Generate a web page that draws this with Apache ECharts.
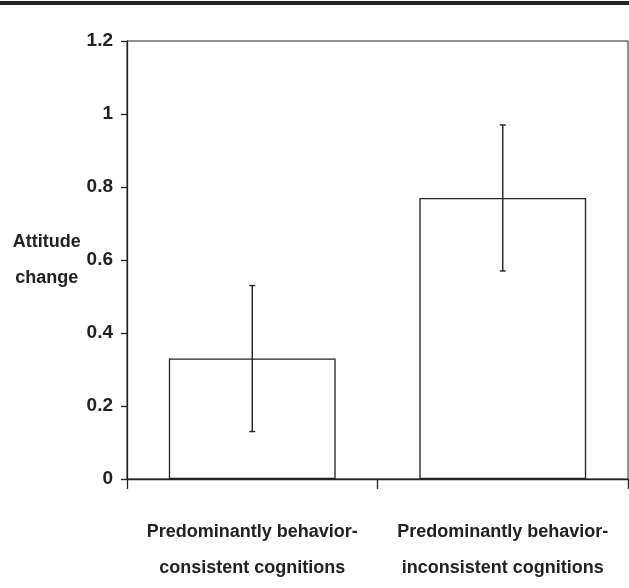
<!DOCTYPE html>
<html>
<head>
<meta charset="utf-8">
<script src="https://cdn.jsdelivr.net/npm/echarts@6/dist/echarts.min.js"></script>
<style>
  html, body { margin: 0; padding: 0; background: #fff; }
  #chart { width: 629px; height: 588px; }
</style>
</head>
<body>
<div id="chart"></div>
<script>
// data
const categories = [
  'Predominantly behavior-\nconsistent cognitions',
  'Predominantly behavior-\ninconsistent cognitions'
]
const means = [0.33, 0.77]
const errLow = [0.13, 0.57]
const errHigh = [0.53, 0.97]
const yTicks = { min: 0, max: 1.2, step: 0.2 }

const font = "'Liberation Sans Narrow', 'Arial Narrow', 'Liberation Sans', Arial, sans-serif"
const ink = '#222'

const chart = echarts.init(document.getElementById('chart'))

chart.setOption({
  animation: false,
  backgroundColor: '#fff',
  graphic: [
    // thick rule across the top of the figure
    { type: 'rect', left: 0, top: 1, shape: { width: 629, height: 4 }, style: { fill: ink } }
  ],
  grid: {
    left: 127, right: 1, top: 41, bottom: 109,
    outerBoundsMode: 'none',
    show: true, borderColor: ink, borderWidth: 1, backgroundColor: 'transparent'
  },
  xAxis: {
    type: 'category',
    data: categories,
    axisLine: { lineStyle: { color: ink, width: 1.3 } },
    axisTick: { show: true, length: 10, lineStyle: { color: ink, width: 1.3 } },
    axisLabel: {
      color: ink, fontFamily: font, fontWeight: 'bold', fontSize: 18,
      lineHeight: 36, margin: 35, interval: 0
    }
  },
  yAxis: {
    type: 'value',
    min: yTicks.min, max: yTicks.max, interval: yTicks.step,
    name: 'Attitude\nchange',
    nameLocation: 'middle',
    nameRotate: 0,
    nameGap: 79,
    nameTextStyle: {
      color: ink, fontFamily: font, fontWeight: 'bold', fontSize: 18,
      lineHeight: 36, align: 'center', verticalAlign: 'middle'
    },
    splitLine: { show: false },
    axisLine: { show: true, lineStyle: { color: ink, width: 1.3 } },
    axisTick: { show: true, length: 6, lineStyle: { color: ink, width: 1.3 } },
    axisLabel: {
      color: ink, fontFamily: font, fontWeight: 'bold', fontSize: 19, margin: 14
    }
  },
  series: [
    {
      type: 'bar',
      data: means,
      barWidth: '66.6%',
      itemStyle: { color: '#fff', borderColor: ink, borderWidth: 1.3 },
      z: 2
    },
    {
      type: 'custom',
      z: 3,
      data: means.map((m, i) => [i, errLow[i], errHigh[i]]),
      renderItem: (params, api) => {
        const lo = api.coord([api.value(0), api.value(1)])
        const hi = api.coord([api.value(0), api.value(2)])
        const cap = 3
        const s = { stroke: ink, lineWidth: 1.4 }
        return {
          type: 'group',
          children: [
            { type: 'line', shape: { x1: lo[0], y1: lo[1], x2: hi[0], y2: hi[1] }, style: s },
            { type: 'line', shape: { x1: lo[0] - cap, y1: lo[1], x2: lo[0] + cap, y2: lo[1] }, style: s },
            { type: 'line', shape: { x1: hi[0] - cap, y1: hi[1], x2: hi[0] + cap, y2: hi[1] }, style: s }
          ]
        }
      }
    }
  ]
})
</script>
</body>
</html>
